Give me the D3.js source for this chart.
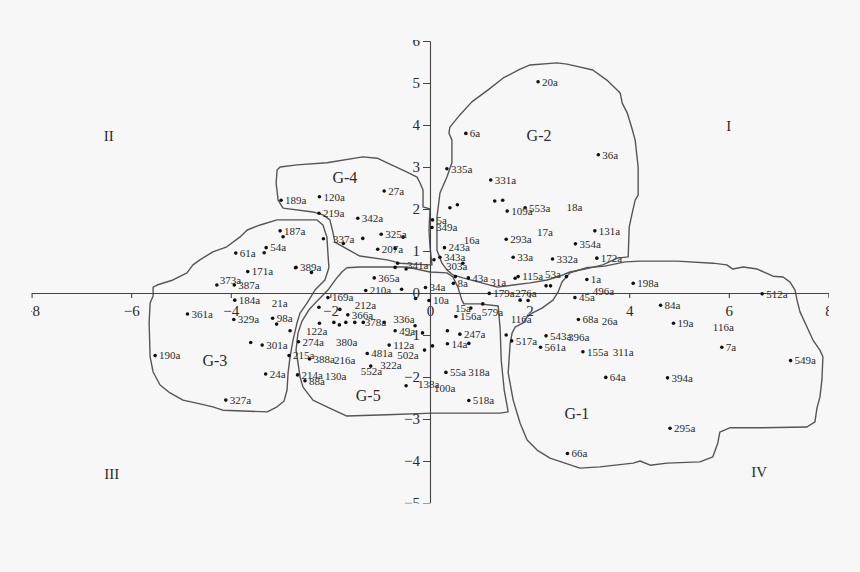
<!DOCTYPE html>
<html>
<head>
<meta charset="utf-8">
<script src="https://cdn.jsdelivr.net/npm/d3@7"></script>
<style>
html,body{margin:0;padding:0;background:#f7f7f7;}
svg{display:block;}
text{font-family:"Liberation Serif","Times New Roman",serif;fill:#2b2b2b;}
</style>
</head>
<body>
<svg id="chart" width="860" height="572"></svg>
<script>
// ---------- DATA ----------
const xTicks = [-8, -6, -4, -2, 0, 2, 4, 6, 8];
const yTicks = [-5, -4, -3, -2, -1, 0, 1, 2, 3, 4, 5, 6];

// labelled samples: [name, x, y]
const labelledPoints = [
  ["20a", 2.17, 5.03], ["6a", 0.72, 3.80], ["36a", 3.38, 3.29], ["335a", 0.34, 2.96],
  ["331a", 1.22, 2.69], ["109a", 1.55, 1.95], ["553a", 1.91, 2.03], ["131a", 3.31, 1.48],
  ["354a", 2.92, 1.17], ["293a", 1.53, 1.28], ["5a", 0.05, 1.74], ["349a", 0.04, 1.56],
  ["243a", 0.29, 1.08], ["343a", 0.20, 0.85], ["43a", 0.77, 0.36], ["8a", 0.47, 0.23],
  ["115a", 1.77, 0.39], ["33a", 1.67, 0.85], ["332a", 2.46, 0.81], ["172a", 3.35, 0.83],
  ["1a", 3.15, 0.32], ["198a", 4.08, 0.23], ["45a", 2.91, -0.11], ["512a", 6.67, -0.02],
  ["84a", 4.63, -0.29], ["68a", 2.98, -0.63], ["19a", 4.89, -0.72], ["543a", 2.33, -1.02],
  ["517a", 1.64, -1.14], ["561a", 2.22, -1.29], ["155a", 3.07, -1.40], ["7a", 5.86, -1.29],
  ["549a", 7.24, -1.61], ["64a", 3.53, -2.01], ["394a", 4.77, -2.02], ["295a", 4.82, -3.22],
  ["66a", 2.76, -3.82], ["34a", -0.09, 0.13], ["179a", 1.19, -0.01], ["10a", -0.02, -0.18],
  ["156a", 0.52, -0.56], ["247a", 0.60, -0.98], ["14a", 0.35, -1.21], ["49a", -0.70, -0.90],
  ["112a", -0.82, -1.24], ["481a", -1.26, -1.44], ["214a", -2.66, -1.95], ["88a", -2.51, -2.09],
  ["55a", 0.32, -1.89], ["518a", 0.78, -2.56], ["169a", -2.05, -0.11], ["210a", -1.29, 0.06],
  ["366a", -1.65, -0.52], ["274a", -2.64, -1.16], ["215a", -2.83, -1.49], ["388a", -2.42, -1.57],
  ["184a", -3.92, -0.17], ["361a", -4.87, -0.50], ["329a", -3.94, -0.63], ["98a", -3.16, -0.60],
  ["301a", -3.37, -1.24], ["190a", -5.52, -1.49], ["24a", -3.30, -1.93], ["327a", -4.10, -2.55],
  ["189a", -2.99, 2.21], ["187a", -3.01, 1.48], ["54a", -3.29, 1.08], ["61a", -3.90, 0.95],
  ["171a", -3.66, 0.51], ["387a", -3.93, 0.19], ["120a", -2.22, 2.29], ["27a", -0.92, 2.43],
  ["219a", -2.23, 1.90], ["342a", -1.45, 1.78], ["325a", -0.98, 1.40], ["207a", -1.05, 1.04],
  ["389a", -2.69, 0.61], ["365a", -1.12, 0.36]
];

// samples whose name is written apart from the dot: [x, y]
const plainPoints = [
  [0.40, 2.03], [0.55, 2.10], [1.30, 2.19], [1.46, 2.21], [0.08, 0.79], [0.66, 0.71],
  [0.51, 0.39], [1.71, 0.35], [2.33, 0.17], [2.42, 0.17], [2.74, 0.39], [1.81, -0.17],
  [1.97, -0.18], [-0.57, 0.09], [-0.29, -0.13], [0.82, -0.36], [1.06, -0.26], [0.35, -0.90],
  [0.78, -1.20], [0.05, -1.26], [-0.11, -1.36], [-0.30, -0.78], [-0.15, -0.95], [-1.93, -0.70],
  [-1.82, -0.76], [-1.69, -0.70], [-1.51, -0.70], [-1.34, -0.70], [-0.92, -0.70], [-2.23, -0.34],
  [-1.81, -0.39], [-2.22, -0.72], [-0.48, -2.21], [1.53, -1.00], [-3.08, -0.74], [-2.81, -0.90],
  [-3.60, -1.18], [-2.95, 1.34], [-3.33, 0.96], [-2.70, 0.60], [-2.14, 1.29], [-1.74, 1.18],
  [-1.35, 1.30], [-0.54, 1.33], [-0.70, 1.06], [-2.38, 0.49], [-0.65, 0.71], [-0.70, 0.61],
  [-0.48, 0.57], [-1.19, -1.74], [-4.28, 0.19]
];

// names written apart from their dots: [name, x, y]
const looseLabels = [
  ["18a", 2.74, 2.05], ["17a", 2.15, 1.45], ["16a", 0.68, 1.25], ["303a", 0.32, 0.64],
  ["31a", 1.21, 0.26], ["53a", 2.31, 0.45], ["496a", 3.27, 0.04], ["26a", 3.45, -0.68],
  ["116a", 5.68, -0.82], ["116a", 1.62, -0.63], ["396a", 2.77, -1.04], ["311a", 3.67, -1.42],
  ["21a", -3.18, -0.25], ["212a", -1.51, -0.29], ["336a", -0.74, -0.63], ["378a", -1.31, -0.70],
  ["122a", -2.49, -0.90], ["380a", -1.89, -1.16], ["502a", -0.66, -1.48], ["216a", -1.93, -1.60],
  ["322a", -1.00, -1.71], ["552a", -1.39, -1.85], ["130a", -2.11, -1.97], ["138a", -0.24, -2.18],
  ["100a", 0.08, -2.27], ["318a", 0.77, -1.89], ["15a", 0.50, -0.36], ["579a", 1.04, -0.45],
  ["276a", 1.71, -0.01], ["337a", -1.95, 1.28], ["341a", -0.46, 0.67], ["373a", -4.22, 0.31]
];

// group names and quadrant numerals: [text, x, y]
const groupNames = [["G-1", 2.95, -2.86], ["G-2", 2.19, 3.76], ["G-3", -4.32, -1.60], ["G-4", -1.71, 2.76], ["G-5", -1.24, -2.43]];
const quadrantNames = [["I", 6.0, 3.98], ["II", -6.45, 3.74], ["III", -6.39, -4.31], ["IV", 6.61, -4.26]];

// hand-drawn group boundaries, in data units
const outlineG1 = [[7.33,0.07],[7.23,0.26],[7.09,0.38],[6.89,0.40],[6.57,0.57],[6.29,0.62],[6.08,0.57],[5.96,0.67],[5.68,0.71],[4.96,0.76],[4.22,0.76],[3.92,0.74],[3.51,0.64],[3.13,0.60],[2.81,0.48],[2.65,0.26],[2.57,0.02],[2.47,-0.17],[2.25,-0.36],[2.05,-0.48],[1.95,-0.57],[1.87,-0.71],[1.71,-0.81],[1.65,-0.95],[1.61,-1.19],[1.57,-1.90],[1.67,-2.55],[1.81,-3.10],[1.95,-3.50],[2.15,-3.74],[2.41,-3.93],[3.01,-4.17],[3.41,-4.14],[4.08,-4.05],[4.22,-4.00],[4.42,-4.10],[4.76,-4.05],[5.42,-4.02],[5.68,-3.90],[5.78,-3.57],[5.82,-3.31],[6.02,-3.21],[6.63,-3.21],[7.57,-3.19],[7.73,-3.07],[7.77,-2.74],[7.83,-2.48],[7.87,-2.07],[7.89,-1.52],[7.83,-1.36],[7.69,-1.12],[7.57,-0.81],[7.43,-0.45],[7.37,-0.17]];
const outlineG2 = [[0.40,3.95],[0.60,4.24],[0.84,4.55],[1.16,4.83],[1.47,5.12],[1.81,5.33],[2.01,5.43],[2.55,5.48],[2.75,5.45],[3.27,5.31],[3.55,5.07],[3.82,4.76],[3.86,4.52],[3.96,4.29],[4.06,3.90],[4.12,3.64],[4.18,3.00],[4.18,2.33],[4.12,2.21],[4.06,1.90],[4.00,1.57],[3.98,0.86],[3.76,0.83],[3.47,0.67],[3.11,0.57],[2.81,0.50],[2.61,0.40],[2.35,0.31],[2.01,0.24],[1.67,0.19],[1.35,0.14],[1.04,0.24],[0.66,0.36],[0.46,0.43],[0.34,0.55],[0.24,0.71],[0.14,1.02],[0.14,1.81],[0.20,2.38],[0.34,2.76],[0.44,3.10],[0.44,3.64],[0.38,3.81]];
const outlineG3 = [[-5.56,0.14],[-5.48,0.19],[-5.16,0.31],[-4.88,0.48],[-4.76,0.67],[-4.62,0.79],[-4.36,0.98],[-4.08,1.10],[-3.82,1.33],[-3.67,1.50],[-3.41,1.62],[-3.07,1.74],[-2.61,1.74],[-2.27,1.74],[-2.15,1.62],[-2.07,1.33],[-2.05,0.95],[-2.03,0.60],[-2.11,0.31],[-2.31,0.07],[-2.47,-0.24],[-2.61,-0.48],[-2.67,-0.71],[-2.75,-1.12],[-2.81,-1.52],[-2.85,-1.90],[-2.87,-2.31],[-2.93,-2.57],[-3.07,-2.71],[-3.27,-2.83],[-4.16,-2.79],[-4.36,-2.71],[-4.62,-2.64],[-4.96,-2.55],[-5.22,-2.38],[-5.42,-2.19],[-5.56,-1.88],[-5.62,-1.52],[-5.64,-0.71],[-5.62,-0.24],[-5.56,-0.07]];
const outlineG4 = [[-3.07,2.93],[-3.01,3.00],[-2.67,3.05],[-2.07,3.10],[-1.35,3.24],[-1.06,3.21],[-0.86,3.10],[-0.46,2.88],[-0.26,2.76],[-0.20,2.62],[-0.14,2.45],[-0.14,2.05],[0.00,2.00],[-0.02,1.50],[0.00,1.10],[0.04,0.67],[-0.06,0.67],[-0.60,0.71],[-0.86,0.79],[-1.41,0.88],[-1.67,1.05],[-1.91,1.21],[-1.95,1.45],[-2.01,1.74],[-2.15,1.86],[-2.35,1.93],[-2.95,2.02],[-3.05,2.21],[-3.09,2.62]];
const outlineG5 = [[-1.67,0.60],[-1.41,0.62],[-0.46,0.62],[0.00,0.50],[0.34,0.48],[0.46,0.38],[0.56,0.14],[0.64,-0.17],[0.68,-0.26],[1.00,-0.26],[1.37,-0.31],[1.41,-0.88],[1.43,-1.60],[1.49,-2.31],[1.57,-2.83],[1.41,-2.86],[0.06,-2.86],[-0.86,-2.90],[-1.67,-2.93],[-2.07,-2.71],[-2.35,-2.55],[-2.55,-2.24],[-2.61,-2.00],[-2.65,-1.67],[-2.69,-1.36],[-2.65,-0.95],[-2.57,-0.67],[-2.43,-0.40],[-2.25,-0.17],[-2.05,0.07],[-1.89,0.33],[-1.77,0.50]];
const outlines = [outlineG1, outlineG2, outlineG3, outlineG4, outlineG5];

// ---------- DRAWING ----------
const svg = d3.select("#chart");
svg.append("rect").attr("width", 860).attr("height", 572).attr("fill", "#f7f7f7");

const x = d3.scaleLinear().domain([-8, 8]).range([31.6, 828.4]);
const y = d3.scaleLinear().domain([-5, 6]).range([503, 41]);

svg.append("clipPath").attr("id", "frame")
  .append("rect").attr("x", 31).attr("y", 40).attr("width", 798).attr("height", 463.5);

const g = svg.append("g").attr("clip-path", "url(#frame)");

// outlines
const line = d3.line().x(d => x(d[0])).y(d => y(d[1])).curve(d3.curveLinearClosed);
g.append("g").selectAll("path").data(outlines).join("path")
  .attr("d", line).attr("fill", "none").attr("stroke", "#555")
  .attr("stroke-width", 1.4).attr("stroke-linejoin", "round");

// axes
const fmt = d3.format("d");
const xAxis = g.append("g").attr("transform", `translate(0,${y(0)})`)
  .call(d3.axisBottom(x).tickValues(xTicks).tickSize(5).tickPadding(7).tickSizeOuter(0).tickFormat(fmt));
const yAxis = g.append("g").attr("transform", `translate(${x(0)},0)`)
  .call(d3.axisLeft(y).tickValues(yTicks).tickSize(7).tickPadding(3).tickSizeOuter(0).tickFormat(fmt));
[xAxis, yAxis].forEach(a => {
  a.selectAll("path,line").attr("stroke", "#444").attr("stroke-width", 1.1);
  a.selectAll("text").attr("font-size", 15).attr("fill", "#333")
    .attr("font-family", "'Liberation Serif','Times New Roman',serif");
});

// dots
const dotR = 1.8;
g.append("g").selectAll("circle.l").data(labelledPoints).join("circle")
  .attr("cx", d => x(d[1])).attr("cy", d => y(d[2])).attr("r", dotR).attr("fill", "#111");
g.append("g").selectAll("circle.p").data(plainPoints).join("circle")
  .attr("cx", d => x(d[0])).attr("cy", d => y(d[1])).attr("r", dotR).attr("fill", "#111");

// labels
g.append("g").selectAll("text").data(labelledPoints).join("text")
  .attr("x", d => x(d[1]) + 4).attr("y", d => y(d[2])).attr("dy", "0.35em")
  .attr("font-size", 11).text(d => d[0]);
g.append("g").selectAll("text").data(looseLabels).join("text")
  .attr("x", d => x(d[1])).attr("y", d => y(d[2])).attr("dy", "0.35em")
  .attr("font-size", 11).text(d => d[0]);

// group names
g.append("g").selectAll("text").data(groupNames).join("text")
  .attr("x", d => x(d[1])).attr("y", d => y(d[2])).attr("dy", "0.35em")
  .attr("text-anchor", "middle").attr("font-size", 16).text(d => d[0]);
g.append("g").selectAll("text").data(quadrantNames).join("text")
  .attr("x", d => x(d[1])).attr("y", d => y(d[2])).attr("dy", "0.35em")
  .attr("text-anchor", "middle").attr("font-size", 15).text(d => d[0]);
</script>
</body>
</html>
